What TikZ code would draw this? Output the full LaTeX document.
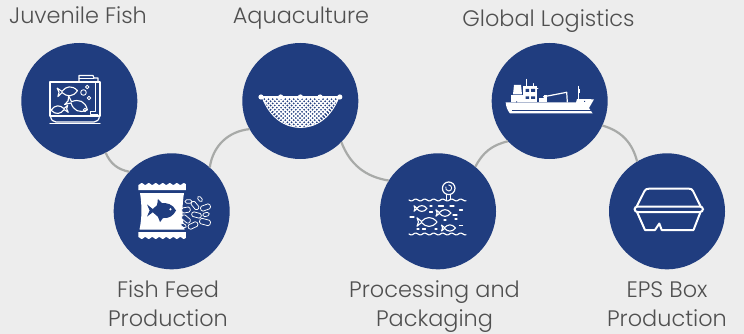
\documentclass[tikz,border=0pt]{standalone}
\usepackage{fontspec}
\setmainfont{Poppins Light}
\definecolor{bgc}{HTML}{EDEDED}
\definecolor{navy}{HTML}{203D7F}
\definecolor{linkc}{HTML}{A8AAA8}
\definecolor{txt}{HTML}{505050}
\tikzset{
  disc/.style={circle,fill=navy,draw=none,minimum size=116pt,inner sep=0pt,outer sep=0pt},
  link/.style={draw=linkc,line width=2.2pt},
  lab/.style={text=txt,font=\fontsize{22.4}{29}\selectfont,align=center,inner sep=0pt,outer sep=0pt,anchor=base},
  ic/.style={draw=white,line width=1.2pt,line join=round,line cap=round},
  pellet/.style={draw=white,line width=.75pt,rounded corners=1.5pt,fill=navy}
}
\newcommand{\fishpath}{(1,0) .. controls (.5,-.62) and (-.1,-.55) .. (-.55,-.06) -- (-1,-.42) -- (-.85,0) -- (-1,.42) -- (-.55,.06) .. controls (-.1,.55) and (.5,.62) .. (1,0) -- cycle}
\newcommand{\fishline}[4]{\begin{scope}[shift={(#1,#2)},rotate=#4,scale=#3]\draw[ic,line width=1.1pt] \fishpath;\end{scope}}
\newcommand{\pel}[5]{\begin{scope}[shift={(#1,#2)},rotate=#3]\draw[pellet] (-#4,-#5) rectangle (#4,#5);\end{scope}}
\begin{document}
\begin{tikzpicture}[x=1pt,y=-1pt]
\useasboundingbox[fill=bgc] (0,0) rectangle (744,334);
\node[disc] (c1) at (79.3,101) {};
\node[disc] (c2) at (171.7,211.3) {};
\node[disc] (c3) at (300.3,101) {};
\node[disc] (c4) at (438,211.3) {};
\node[disc] (c5) at (549.7,101) {};
\node[disc] (c6) at (667,211.3) {};
\draw[link] (c1.-63) to[bend right=28] (c2.137);
\draw[link] (c2.49) to[bend left=38] (c3.209);
\draw[link] (c3.-45) to[bend right=30] (c4.148);
\draw[link] (c4.50) to[bend left=25] (c5.224);
\draw[link] (c5.-25) to[bend left=30] (c6.121);
% labels
\node[lab] (t1) at (78,24) {Juvenile Fish};
\node[lab] (t3) at (301,24) {Aquaculture};
\node[lab] (t5) at (548.5,27) {Global Logistics};
\node[lab] (t2) at (168,326.5) {Fish Feed\\Production};
\node[lab] (t4) at (434.5,326.5) {Processing and\\Packaging};
\node[lab] (t6) at (667,326.5) {EPS Box\\Production};
% icon 1: aquarium
\draw[ic] (50,116) -- (50,82) -- (100,82) -- (100,116) -- cycle;
\draw[ic] (50.5,116) .. controls (51,120) and (53,122) .. (56,122) -- (94,122) .. controls (97,122) and (99,120) .. (99.5,116);
\draw[ic] (50,123.5) -- (100,123.5);
\draw[ic] (79,82) -- (79,75.5) -- (93,75.5) -- (94,78) -- (98,78) -- (98,82);
\draw[ic,line width=.9pt] (79,78) -- (94,78);
\draw[ic,line width=.9pt] (95,82) -- (95,111) -- (90,111) -- (90,114) -- (98,114);
\draw[ic,line width=.9pt] (87.3,87) circle (1.8) (83.5,92.5) circle (2.8) (89,98) circle (1.8) (85,110) circle (1.8);
\fishline{67.5}{91.5}{10}{5}
\fishline{77}{105}{11.5}{-25}
\fishline{59.5}{109.5}{8.5}{185}
% icon 2: feed bag
\fill[white] (138.3,190) -- plot[domain=138.3:185.8,samples=70] (\x,{184+.9*cos(51.4*(\x-138.3))}) -- (185.8,190) -- cycle;
\fill[white] (138.3,232) -- plot[domain=138.3:185.8,samples=70] (\x,{238-.9*cos(51.4*(\x-138.3))}) -- (185.8,232) -- cycle;
\fill[white] (140,193) .. controls (142,205) and (142,218) .. (139.5,229.5) -- (184.5,229.5) .. controls (182,218) and (182,205) .. (184,193) -- cycle;
\begin{scope}[shift={(161.5,210.5)},scale=14.5]
\fill[navy] (1,0) .. controls (.8,-.45) and (.3,-.55) .. (.05,-.5) -- (-.25,-.8) .. controls (-.25,-.6) and (-.3,-.45) .. (-.32,-.35) .. controls (-.45,-.25) and (-.55,-.15) .. (-.6,-.1) -- (-1,-.42) -- (-.82,0) -- (-1,.42) -- (-.6,.12) .. controls (-.5,.2) and (-.3,.4) .. (-.25,.42) -- (-.1,.8) -- (.1,.52) .. controls (.5,.55) and (.8,.4) .. (1,0) -- cycle;
\fill[white] (.62,-.08) circle (.08);
\end{scope}
\pel{188.5}{201.5}{0}{3.4}{1.7}
\pel{200}{199}{-50}{3}{1.6}
\pel{195}{205.5}{-50}{4.6}{2.3}
\pel{205.5}{207.5}{20}{5}{2.6}
\pel{186}{210}{10}{4.2}{2.6}
\pel{206}{214.5}{15}{3.2}{1.8}
\pel{196.5}{215}{-15}{4.8}{2.4}
\pel{186}{219}{-40}{4.8}{2.5}
\pel{205}{222}{-15}{5.4}{2.8}
\pel{193}{225.5}{25}{5}{2.5}
\pel{183.5}{225.5}{-30}{3}{1.6}
% icon 3: net
\begin{scope}
\clip (262,97) .. controls (270,118) and (285,127.5) .. (300.5,127.5) .. controls (316,127.5) and (331,118) .. (339,97) -- cycle;
\foreach \k in {0,4.2,...,120}{
  \draw[white,line width=1.3pt] (255+\k,92) -- (295+\k,132);
  \draw[white,line width=1.3pt] (345-\k,92) -- (305-\k,132);
}
\end{scope}
\draw[ic,line width=.8pt] (262,97) .. controls (270,118) and (285,127.5) .. (300.5,127.5) .. controls (316,127.5) and (331,118) .. (339,97);
\draw[ic] (261,97) -- (340,97);
\foreach \px in {261,280.7,300.4,320.1,339.8}{\fill[white] (\px,97) circle (2.6);}
% icon 4: fishing
\draw[ic] (448.7,188.3) circle (6.3);
\draw[ic,line width=.9pt] (448.7,185) arc[start angle=-90,end angle=200,radius=3];
\draw[ic] (446.7,194.5) -- (446.7,199.5) (450.7,194.5) -- (450.7,199.5);
\draw[ic] plot[domain=409:466,samples=80] (\x,{200+.9*sin(40*(\x-409))});
\draw[ic] plot[domain=409:466,samples=80] (\x,{234+.9*sin(40*(\x-409))});
\fishline{420.5}{208.5}{6.5}{0}
\fishline{443.5}{213}{7.5}{0}
\fishline{427}{222}{10}{0}
\fishline{448.5}{228}{7}{0}
\foreach \ax/\ay/\al in {431/206/1,441/206/2.5,452/206/2,461/210/1.5,431/212/1.5,412/217/2,455/215/2,445/220/1,418/229/1,424/229/1.5,436/229/1,461/225.5/1.5,456/219/1}{
  \draw[ic] ({\ax-\al},\ay) -- ({\ax+\al},\ay);
}
% icon 5: ship
\fill[white] (505.7,102.5) -- (538,102.5) -- (576,102.5) -- (577,99) -- (594,99.3) -- (589,108) -- (592.7,113.5) -- (510,113.5) .. controls (507,110) and (506,106) .. (505.7,102.5) -- cycle;
\fill[white] (511,95) rectangle (537,102.5);
\fill[white] (523,86) rectangle (537,95);
\fill[white] (513,94.5) -- (514,85) -- (521,85) -- (522,94.5) -- cycle;
\draw[ic] (526.7,79.5) -- (526.7,86);
\draw[ic,line width=.9pt] (533.5,83.5) -- (533.5,86) (535,88) -- (538,88);
\fill[white] (539,98) rectangle (547,102.5);
\fill[white] (544,95.5) rectangle (547,98);
\draw[ic] (543.5,96.8) -- (566.7,92.3) -- (567.3,102);
\draw[ic] (578.7,86.5) -- (578.7,99);
\fill[white] (577.5,89.5) rectangle (579.9,93.5);
\draw[navy,line width=.7pt] (512,110.7) -- (591,110.7);
\fill[navy] (525.5,89) rectangle (529,92) (531,89) rectangle (535,92) (525.5,96.5) rectangle (529,99) (531,96.5) rectangle (535,99);
\fill[navy] (516,101.5) rectangle (517,102.5) (584,101) rectangle (585,102);
% icon 6: EPS box
\draw[ic,line width=2pt] (636.7,206.5) -- (644.5,191) .. controls (645.5,189.2) and (647,188.7) .. (649,188.7) -- (689,188.7) .. controls (691,188.7) and (692,189.2) .. (693,191) -- (700.7,206.5);
\draw[ic,line width=2pt,rounded corners=3pt] (634.5,206.5) rectangle (703,212);
\draw[ic,line width=2pt] (637,212) -- (645,230) -- (655,230) -- (659.3,223.5) -- (661.7,230) -- (693.5,230) -- (700.5,212);
\end{tikzpicture}
\end{document}
